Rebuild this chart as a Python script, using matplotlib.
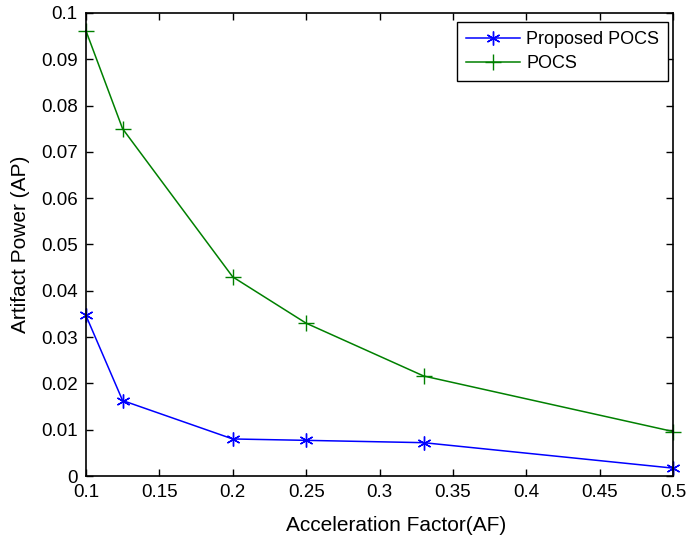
import numpy as np
import matplotlib.pyplot as plt

plt.rcParams['font.family'] = ['Liberation Sans', 'DejaVu Sans']

# Acceleration factor values
af = [0.1, 0.125, 0.2, 0.25, 0.33, 0.5]
proposed_ap = [0.0347, 0.0163, 0.0080, 0.0077, 0.0072, 0.0017]
pocs_ap = [0.0962, 0.0750, 0.0430, 0.0330, 0.0216, 0.0096]

xticks = [0.1, 0.15, 0.2, 0.25, 0.3, 0.35, 0.4, 0.45, 0.5]
xtick_labels = ['0.1', '0.15', '0.2', '0.25', '0.3', '0.35', '0.4', '0.45', '0.5']
yticks = [0, 0.01, 0.02, 0.03, 0.04, 0.05, 0.06, 0.07, 0.08, 0.09, 0.1]
ytick_labels = ['0', '0.01', '0.02', '0.03', '0.04', '0.05', '0.06', '0.07', '0.08', '0.09', '0.1']

fig = plt.figure(figsize=(6.87, 5.4), dpi=100)
ax = fig.add_axes([0.125, 0.1185, 0.855, 0.8575])

# matlab-like asterisk marker
star = (6, 2, 0)
ax.plot(af, proposed_ap, color='#0000ff', marker=star, markersize=10,
        markeredgewidth=1.0, linewidth=1.1, label='Proposed POCS', clip_on=False)
ax.plot(af, pocs_ap, color='#008000', marker='+', markersize=12,
        markeredgewidth=1.0, linewidth=1.1, label='POCS', clip_on=False)

ax.set_xlim(0.1, 0.5)
ax.set_ylim(0, 0.1)
ax.set_xticks(xticks)
ax.set_xticklabels(xtick_labels)
ax.set_yticks(yticks)
ax.set_yticklabels(ytick_labels)
ax.tick_params(direction='in', length=5, width=1, labelsize=13.5, top=True, right=True, pad=6)
for s in ax.spines.values():
    s.set_linewidth(1.2)

ax.set_xlabel('Acceleration Factor(AF)', fontsize=15)
ax.xaxis.set_label_coords(0.528, -0.086, transform=ax.transAxes)
ax.xaxis.label.set_va('top')
ax.set_ylabel('Artifact Power (AP)', fontsize=15, labelpad=8)

leg = ax.legend(loc='upper right', bbox_to_anchor=(0.9915, 0.9806), fontsize=13,
                fancybox=False, edgecolor='black', framealpha=1, borderaxespad=0,
                handlelength=3.0, handletextpad=0.33, labelspacing=0.4, borderpad=0.5)
leg.get_frame().set_linewidth(1.0)

fig.savefig('out.png', dpi=100)
